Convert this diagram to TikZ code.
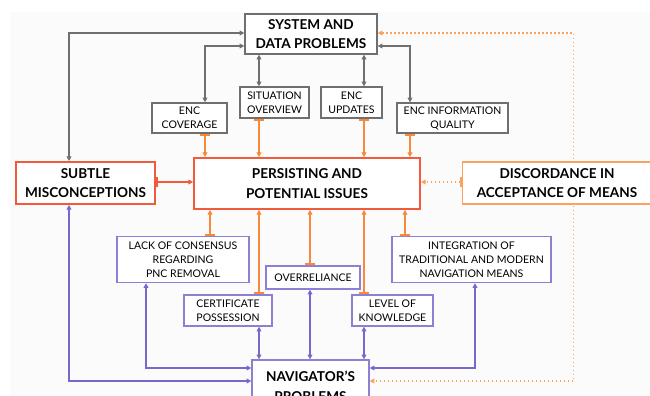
\documentclass[tikz,border=0pt]{standalone}
\usepackage{fontspec}
\setmainfont{Lato}
\usetikzlibrary{arrows.meta,calc,backgrounds}

\definecolor{linegray}{HTML}{6F6F6F}
\definecolor{redorange}{HTML}{F15A3A}
\definecolor{orangeA}{HTML}{F8893A}
\definecolor{orangeL}{HTML}{F9A35E}
\definecolor{purpleL}{HTML}{7B66CC}
\definecolor{purpleB}{HTML}{8C7FD4}
\definecolor{paper}{HTML}{FBFBFB}

\tikzset{
  x=0.75pt, y=-0.75pt,
  smalltext/.style={font=\fontsize{7.9}{10.5}\selectfont, align=center},
  bigtext/.style={font=\fontsize{10.2}{14.8}\selectfont\bfseries, align=center},
  box/.style 2 args={rectangle, fill=white, inner sep=0pt,
    minimum width=#1*0.75pt, minimum height=#2*0.75pt},
  graybox/.style={draw=linegray, line width=1pt, smalltext},
  purplebox/.style={draw=purpleB, line width=1pt, smalltext},
  graylink/.style={draw=linegray, line width=0.9pt,
    {Triangle[length=3.6pt,width=3.6pt]}-{Triangle[length=3.6pt,width=3.6pt]}},
  purplelink/.style={draw=purpleL, line width=0.9pt,
    {Triangle[length=3.6pt,width=3.6pt]}-{Triangle[length=3.6pt,width=3.6pt]}},
  teelink/.style={draw=#1, line width=1pt,
    {Bar[width=7.5pt,line width=1.4pt]}-{Triangle[length=3.6pt,width=3.6pt]}},
}

\begin{document}
\begin{tikzpicture}
\useasboundingbox (0,0) rectangle (650,396);
\begin{scope}
\clip (0,0) rectangle (650,396);

% top level
\node[box={132}{40}, draw=linegray, line width=1pt, bigtext] (sys) at (311,34)
  {SYSTEM AND\\DATA PROBLEMS};

% ENC-related problems
\node[box={75}{30}, graybox] (cov)  at (189.5,118) {ENC\\COVERAGE};
\node[box={69}{31}, graybox] (sit)  at (274.5,102.5) {SITUATION\\OVERVIEW};
\node[box={61}{31}, graybox] (upd)  at (351.5,102.5) {ENC\\UPDATES};
\node[box={111}{30}, graybox] (qual) at (452.5,118) {ENC INFORMATION\\QUALITY};

% middle row
\node[box={139}{42}, draw=redorange, line width=1.3pt, bigtext] (subtle) at (85.5,183)
  {SUBTLE\\MISCONCEPTIONS};
\node[box={226}{51}, draw=redorange, line width=1.3pt, bigtext] (pers) at (307,183.5)
  {PERSISTING AND\\POTENTIAL ISSUES};
\node[box={189}{42}, draw=orangeL, line width=1.3pt, bigtext] (disc) at (557,183)
  {DISCORDANCE IN\\ACCEPTANCE OF MEANS};

% navigator-related problems
\node[box={132}{46}, purplebox] (lack)  at (183,259.5) {LACK OF CONSENSUS\\REGARDING\\PNC REMOVAL};
\node[box={94}{23}, purplebox] (over)  at (313,277.5) {OVERRELIANCE};
\node[box={159}{46}, purplebox] (integ) at (471.5,259.5) {INTEGRATION OF\\TRADITIONAL AND MODERN\\NAVIGATION MEANS};
\node[box={88}{31}, purplebox] (cert)  at (228,310.5) {CERTIFICATE\\POSSESSION};
\node[box={81}{31}, purplebox] (lev)   at (392.5,310.5) {LEVEL OF\\KNOWLEDGE};

% bottom level
\node[box={117}{52}, draw=purpleB, line width=1pt, bigtext] (nav) at (310.5,386)
  {NAVIGATOR’S\\PROBLEMS};
\end{scope}

\begin{scope}[on background layer]
\fill[paper] (10,12) rectangle (650,396);

% links of the system level
\draw[graylink] ($(sys.west)+(0,-1)$) -| ($(subtle.north)+(-16.5,0)$);
\draw[graylink] ($(sys.west)+(0,12)$) -| ($(cov.north)+(15.5,0)$);
\draw[graylink] ($(sys.south)+(-52,0)$) coordinate (s1) -- (s1 |- sit.north);
\draw[graylink] ($(sys.south)+(53,0)$) coordinate (s2) -- (s2 |- upd.north);
\draw[graylink] ($(sys.east)+(0,12)$) -| ($(qual.north)+(-42.5,0)$);

% influences from above
\draw[teelink=orangeA] ($(cov.south)+(15.5,0)$) coordinate (a1) -- (a1 |- pers.north);
\draw[teelink=orangeA] ($(sit.south)+(-15.5,0)$) coordinate (a2) -- (a2 |- pers.north);
\draw[teelink=orangeA] ($(upd.south)+(12.5,0)$) coordinate (a3) -- (a3 |- pers.north);
\draw[teelink=orangeA] ($(qual.south)+(-42.5,0)$) coordinate (a4) -- (a4 |- pers.north);

% influences from the sides
\draw[teelink=redorange] ($(subtle.east)+(0,-1)$) coordinate (b1) -- (b1 -| pers.west);
\draw[teelink=orangeL, dotted] ($(disc.west)+(0,-1)$) coordinate (b2) -- (b2 -| pers.east);

% influences from below
\draw[teelink=orangeA] ($(lack.north)+(27,0)$) coordinate (c1) -- (c1 |- pers.south);
\draw[teelink=orangeA] ($(cert.north)+(31,0)$) coordinate (c2) -- (c2 |- pers.south);
\draw[teelink=orangeA] ($(over.north)+(-3,0)$) coordinate (c3) -- (c3 |- pers.south);
\draw[teelink=orangeA] ($(lev.north)+(-28.5,0)$) coordinate (c4) -- (c4 |- pers.south);
\draw[teelink=orangeA] ($(integ.north)+(-66.5,0)$) coordinate (c5) -- (c5 |- pers.south);

% system and navigator levels
\draw[draw=orangeL, line width=1pt, dotted,
  {Triangle[length=3.6pt,width=3.6pt]}-{Triangle[length=3.6pt,width=3.6pt]}]
  ($(sys.east)+(0,-1)$) -- ++(196,0) |- ($(nav.east)+(0,-5)$);

% links of the navigator level
\draw[purplelink] ($(subtle.south)+(-16.5,0)$) |- ($(nav.west)+(0,-5)$);
\draw[purplelink] ($(lack.south)+(-37,0)$) |- ($(nav.west)+(0,-18)$);
\draw[purplelink] ($(cert.south)+(31,0)$) coordinate (d1) -- (d1 |- nav.north);
\draw[purplelink] ($(over.south)+(-3,0)$) coordinate (d2) -- (d2 |- nav.north);
\draw[purplelink] ($(lev.south)+(-28.5,0)$) coordinate (d3) -- (d3 |- nav.north);
\draw[purplelink] ($(integ.south)+(3.5,0)$) |- ($(nav.east)+(0,-18)$);
\end{scope}
\end{tikzpicture}
\end{document}
